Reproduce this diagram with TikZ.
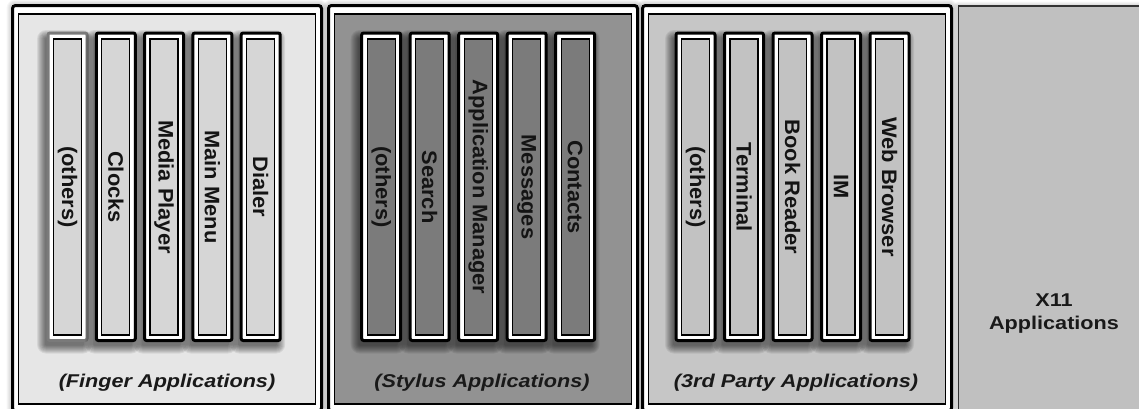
\documentclass[tikz,border=0pt]{standalone}
\usepackage{fontspec}
\setmainfont{Liberation Sans}
\newfontfamily\capfont{Liberation Sans}[FakeStretch=1.17]
\newfontfamily\labfont{Liberation Sans}[FakeStretch=1.04]
\usetikzlibrary{calc}
\definecolor{pAbg}{HTML}{E6E6E6}
\definecolor{pAst}{HTML}{D6D6D6}
\definecolor{pBbg}{HTML}{929292}
\definecolor{pBst}{HTML}{7B7B7B}
\definecolor{pCbg}{HTML}{C6C6C6}
\definecolor{pCst}{HTML}{C2C2C2}
\definecolor{xbg}{HTML}{C0C0C0}
\definecolor{frameA}{HTML}{7A7A7A}
\tikzset{
  panelout/.style={draw=black, fill=white, line width=3pt, rounded corners=3pt,
    minimum width=309pt, minimum height=405.5pt, inner sep=0pt, outer sep=0pt},
  panelin/.style={draw=black, line width=1.3pt, minimum width=297pt,
    minimum height=390pt, inner sep=0pt, outer sep=0pt},
  stripout/.style={draw=black, fill=white, line width=3pt, rounded corners=2pt,
    minimum width=39pt, minimum height=307.5pt, inner sep=0pt, outer sep=0pt},
  stripin/.style={draw=black, line width=1.3pt, minimum width=28pt,
    minimum height=296pt, inner sep=0pt, outer sep=0pt},
  striplabel/.style={rotate=-90, inner sep=0pt, text=black!92,
    font=\labfont\bfseries\fontsize{21}{24}\selectfont},
  captext/.style={anchor=base, inner sep=0pt, text=black!90,
    font=\capfont\bfseries\itshape\fontsize{18.5}{22}\selectfont},
  x11text/.style={align=center, inner sep=0pt, text=black!90,
    font=\capfont\bfseries\fontsize{18.5}{23}\selectfont},
  x11box/.style={draw=black!80, fill=xbg, line width=1.5pt, inner sep=0pt,
    outer sep=0pt, minimum width=192pt, minimum height=414pt}
}
% name, x-centre, label, fill colour, frame colour
\newcommand\appstrip[5]{%
  \foreach \k in {0,...,8}{%
    \fill[black, opacity=0.07, rounded corners=1pt+\k pt]
      ({#2-22.5-\k},{38-\k}) rectangle ({#2+16.5+\k},{345.5+\k});}
  \node[stripout, draw=#5] (#1) at (#2,186.75) {};
  \node[stripin, fill=#4] (#1in) at (#2,187) {};
  \node[striplabel] (#1lab) at (#1in.center) {#3};
}
% name, left edge, fill colour
\newcommand\apppanel[3]{%
  \foreach \k in {1,...,6}{%
    \fill[black, opacity=0.035, rounded corners=3pt+\k pt]
      ({#2+1.5-\k},{5.5-\k}) rectangle ({#2+310.5+\k},{420});}
  \node[panelout] (#1) at ({#2+156},{208.25}) {};
  \node[panelin, fill=#3] (#1in) at ({#2+156},{209}) {};
}
\begin{document}
\begin{tikzpicture}[x=1pt, y=-1pt]
\useasboundingbox (0,0) rectangle (1139,408);
\clip (0,0) rectangle (1139,408);
\fill[white] (0,0) rectangle (1139,408);

% X11 panel
\foreach \k in {1,...,5}{%
  \fill[black, opacity=0.035, rounded corners=\k pt]
    ({958.5-\k},{6.5-\k}) rectangle (1160,420);}
\node[x11box] (x11) at (1054.5,213) {};
\node[x11text] (x11lab) at (1054,313.8) {X11\\Applications};

% Finger applications panel
\apppanel{pA}{11}{pAbg}
\appstrip{a1}{67.5}{(others)}{pAst}{frameA}
\appstrip{a2}{115.8}{Clocks}{pAst}{black}
\appstrip{a3}{164.1}{Media Player}{pAst}{black}
\appstrip{a4}{212.4}{Main Menu}{pAst}{black}
\appstrip{a5}{260.7}{Dialer}{pAst}{black}
\node[captext] (capA) at (167,387.5) {(Finger Applications)};

% Stylus applications panel
\apppanel{pB}{327}{pBbg}
\appstrip{b1}{381.2}{(others)}{pBst}{black}
\appstrip{b2}{429.7}{Search}{pBst}{black}
\appstrip{b3}{478.2}{Application Manager}{pBst}{black}
\appstrip{b4}{526.7}{Messages}{pBst}{black}
\appstrip{b5}{575.2}{Contacts}{pBst}{black}
\node[captext] (capB) at (482,387.5) {(Stylus Applications)};

% 3rd party applications panel
\apppanel{pC}{641}{pCbg}
\appstrip{c1}{695.5}{(others)}{pCst}{black}
\appstrip{c2}{744}{Terminal}{pCst}{black}
\appstrip{c3}{792.5}{Book Reader}{pCst}{black}
\appstrip{c4}{841}{IM}{pCst}{black}
\appstrip{c5}{889.5}{Web Browser}{pCst}{black}
\node[captext] (capC) at (796,387.5) {(3rd Party Applications)};
\end{tikzpicture}
\end{document}
